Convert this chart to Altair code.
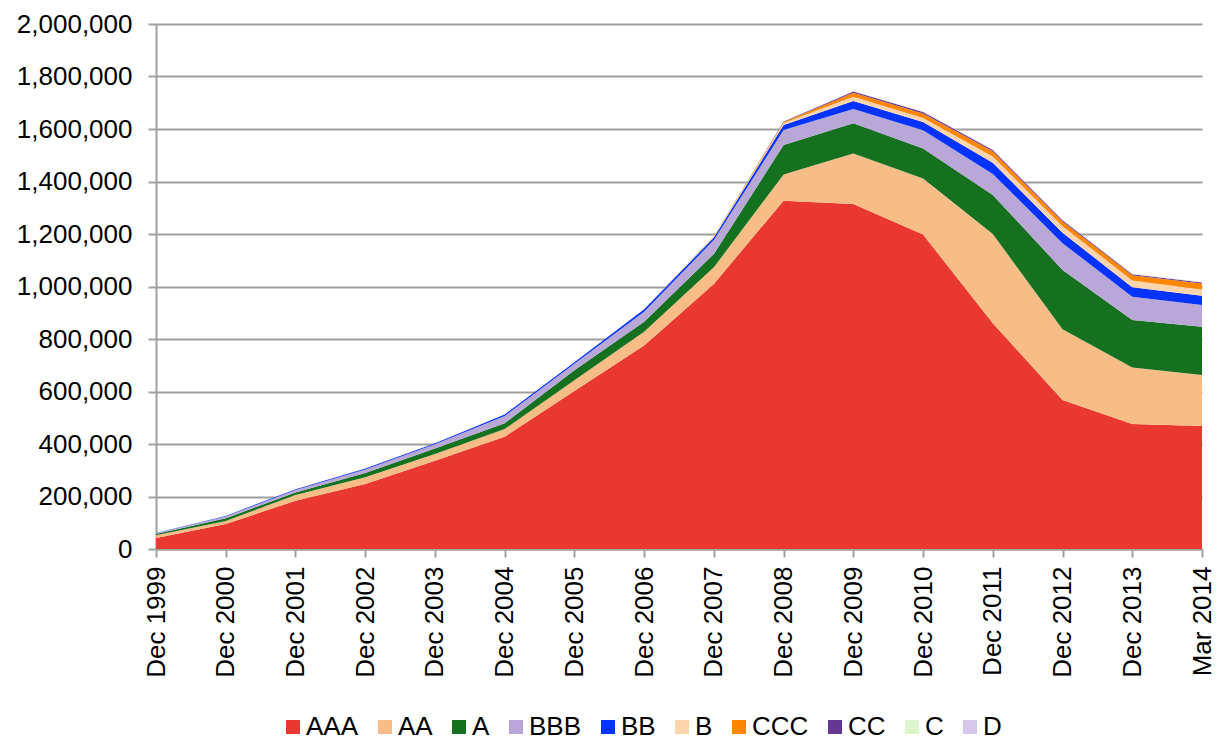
import altair as alt
import pandas as pd

periods = ["Dec 1999", "Dec 2000", "Dec 2001", "Dec 2002", "Dec 2003", "Dec 2004",
           "Dec 2005", "Dec 2006", "Dec 2007", "Dec 2008", "Dec 2009", "Dec 2010",
           "Dec 2011", "Dec 2012", "Dec 2013", "Mar 2014"]

ratings = ["AAA", "AA", "A", "BBB", "BB", "B", "CCC", "CC", "C", "D"]
colors = ["#E93830", "#F8BD87", "#157020", "#B8A7D7", "#0433FF", "#FDD5AC",
          "#FF8700", "#673893", "#DFF5CC", "#D5C8EB"]

AAA = [42000, 95000, 184000, 248000, 336000, 428000, 602000, 775000, 1010000, 1327000,
       1314000, 1198000, 860000, 568000, 476000, 469000]
AA = [10000, 12000, 22000, 25000, 26000, 29000, 41000, 53000, 63000, 100000,
      193000, 213000, 340000, 269000, 215000, 194000]
A = [5000, 10000, 9000, 17000, 21000, 22000, 38000, 38000, 51000, 112000,
     115000, 115000, 149000, 226000, 181000, 184000]
BBB = [3000, 7000, 10000, 13000, 16000, 28000, 25000, 38000, 53000, 57000,
       54000, 69000, 80000, 102000, 89000, 83000]
BB = [1000, 2000, 3000, 4000, 4000, 5000, 5000, 9000, 10000, 19000,
      31000, 32000, 42000, 40000, 36000, 35000]
B = [0, 0, 500, 500, 500, 500, 500, 1000, 3000, 8000,
     16000, 15000, 24000, 25000, 26000, 24000]
CCC = [0, 0, 0, 0, 0, 0, 0, 500, 1000, 4000,
       15000, 17000, 20000, 18000, 20000, 22000]
CC = [0, 0, 0, 0, 0, 0, 0, 0, 500, 2000,
      5000, 6000, 5000, 4000, 4000, 4000]
C = [0, 0, 0, 0, 0, 0, 0, 0, 0, 300,
     1000, 1000, 1000, 1000, 1000, 1000]
D = [0, 0, 0, 0, 0, 0, 0, 0, 0, 300,
     1000, 1000, 2000, 1000, 1000, 1000]

series = [AAA, AA, A, BBB, BB, B, CCC, CC, C, D]
y_ticks = list(range(0, 2000001, 200000))

rows = []
for rank, (name, vals) in enumerate(zip(ratings, series)):
    for p, v in zip(periods, vals):
        rows.append({"period": p, "rating": name, "value": v, "rank": rank})
df = pd.DataFrame(rows)

FONT = "Liberation Sans"
GRAY = "#A0A0A0"

chart = alt.Chart(df).mark_area(interpolate="linear", opacity=1).encode(
    x=alt.X("period:N", sort=periods,
            scale=alt.Scale(type="point", padding=0),
            axis=alt.Axis(title=None, labelAngle=270, labelFontSize=26, labelFont=FONT,
                          labelColor="black", tickColor=GRAY, tickWidth=2, tickSize=8,
                          domainColor=GRAY, domainWidth=2, labelPadding=9, grid=False)),
    y=alt.Y("value:Q", stack="zero",
            scale=alt.Scale(domain=[0, 2000000], nice=False),
            axis=alt.Axis(title=None, values=y_ticks, format=",d", labelFontSize=26,
                          labelFont=FONT, labelColor="black", tickColor=GRAY, tickWidth=2,
                          tickSize=8, domainColor=GRAY, domainWidth=2, labelPadding=16,
                          gridColor=GRAY, gridWidth=2)),
    color=alt.Color("rating:N", sort=ratings,
                    scale=alt.Scale(domain=ratings, range=colors),
                    legend=alt.Legend(title=None, orient="none", direction="horizontal",
                                      legendX=124, legendY=690, symbolType="square",
                                      symbolSize=196, symbolStrokeWidth=0,
                                      labelFontSize=26, labelFont=FONT, labelColor="black",
                                      labelOffset=0, columnPadding=13, columns=10)),
    order=alt.Order("rank:Q", sort="ascending"),
).properties(
    width=1046, height=525,
    autosize=alt.AutoSizeParams(type="none"),
    padding={"left": 148, "top": 16, "right": 16, "bottom": 194},
).configure_view(stroke=None)

chart.save("out.html", embed_options={"renderer": "svg", "actions": False})
